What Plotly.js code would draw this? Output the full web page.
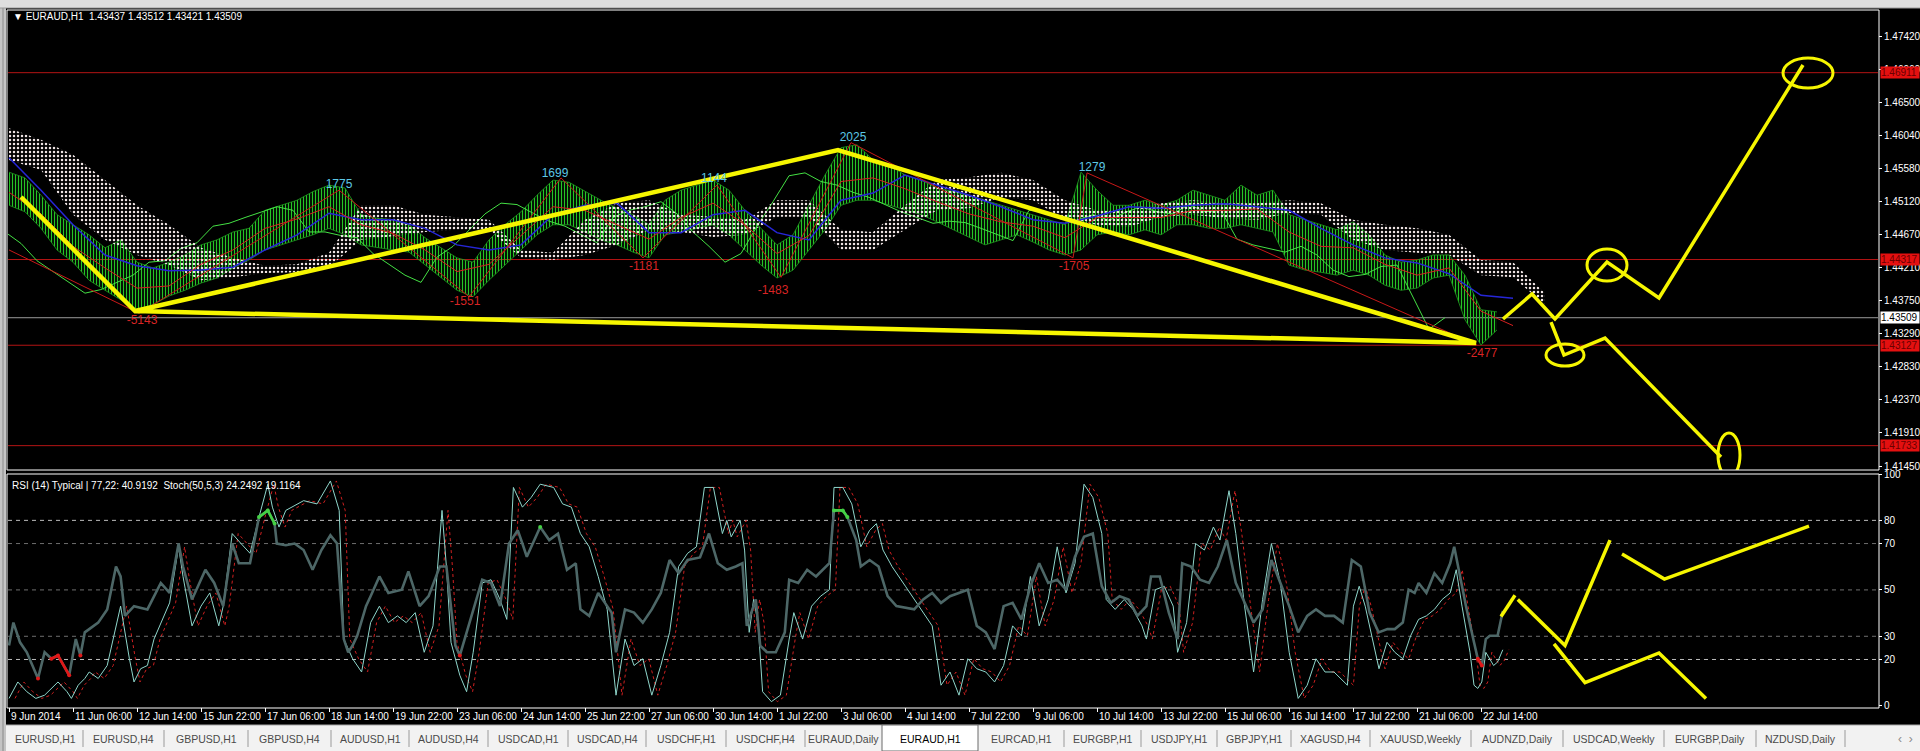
<!DOCTYPE html>
<html><head><meta charset="utf-8">
<script src="https://cdn.plot.ly/plotly-3.0.1.min.js"></script>
<style>html,body{margin:0;padding:0;background:#000;overflow:hidden}#chart{width:1920px;height:751px}</style>
</head><body><div id="chart"></div>
<script>
// ---------- DATA (x = bar index of the H1 chart, bar 0 = 9 Jun 2014) ----------
const sampleStep = 8;          // price samples every 8 bars
const indStep = 16;            // ichimoku lines sampled every 16 bars
const highs = [1.4553,1.4545,1.4521,1.4494,1.4480,1.4466,1.4448,1.4459,1.4428,1.4420,
 1.4428,1.4438,1.4452,1.4459,1.4470,1.4475,1.4500,1.4507,1.4514,1.4526,
 1.4535,1.4531,1.4494,1.4489,1.4487,1.4480,1.4462,1.4448,1.4434,1.4428,
 1.4459,1.4480,1.4498,1.4521,1.4542,1.4539,1.4526,1.4514,1.4503,1.4494,
 1.4480,1.4514,1.4528,1.4535,1.4542,1.4528,1.4500,1.4475,1.4452,1.4466,
 1.4507,1.4549,1.4587,1.4591,1.4570,1.4563,1.4549,1.4542,1.4531,1.4526,
 1.4521,1.4514,1.4507,1.4500,1.4494,1.4487,1.4480,1.4553,1.4528,1.4507,
 1.4507,1.4514,1.4507,1.4514,1.4528,1.4521,1.4514,1.4535,1.4521,1.4528,
 1.4494,1.4487,1.4480,1.4473,1.4484,1.4466,1.4438,1.4428,1.4431,1.4438,
 1.4438,1.4410,1.4362,1.4359];
const lows = [1.4507,1.4498,1.4475,1.4445,1.4428,1.4403,1.4389,1.4376,1.4362,1.4369,
 1.4381,1.4389,1.4399,1.4406,1.4420,1.4431,1.4445,1.4452,1.4459,1.4466,
 1.4475,1.4466,1.4452,1.4448,1.4445,1.4442,1.4424,1.4406,1.4389,1.4380,
 1.4403,1.4424,1.4445,1.4466,1.4480,1.4480,1.4470,1.4459,1.4452,1.4442,
 1.4434,1.4466,1.4470,1.4475,1.4480,1.4466,1.4445,1.4424,1.4406,1.4417,
 1.4445,1.4473,1.4507,1.4514,1.4514,1.4507,1.4500,1.4494,1.4484,1.4473,
 1.4462,1.4452,1.4459,1.4466,1.4456,1.4445,1.4438,1.4445,1.4466,1.4470,
 1.4466,1.4473,1.4466,1.4480,1.4480,1.4475,1.4475,1.4480,1.4475,1.4470,
 1.4424,1.4417,1.4414,1.4410,1.4417,1.4410,1.4396,1.4389,1.4392,1.4406,
 1.4410,1.4348,1.4313,1.4334];
const closes = [1.4530,1.4522,1.4498,1.4470,1.4454,1.4430,1.4415,1.4400,1.4385,1.4390,
 1.4400,1.4410,1.4428,1.4430,1.4447,1.4455,1.4478,1.4482,1.4490,1.4497,
 1.4505,1.4500,1.4470,1.4470,1.4465,1.4462,1.4440,1.4425,1.4410,1.4400,
 1.4435,1.4450,1.4472,1.4495,1.4510,1.4508,1.4496,1.4485,1.4478,1.4466,
 1.4455,1.4490,1.4500,1.4505,1.4512,1.4495,1.4470,1.4450,1.4428,1.4440,
 1.4478,1.4512,1.4548,1.4552,1.4540,1.4535,1.4525,1.4518,1.4508,1.4498,
 1.4490,1.4482,1.4485,1.4483,1.4475,1.4466,1.4458,1.4500,1.4498,1.4488,
 1.4486,1.4494,1.4486,1.4497,1.4505,1.4498,1.4495,1.4508,1.4498,1.4500,
 1.4460,1.4452,1.4447,1.4442,1.4450,1.4438,1.4417,1.4408,1.4411,1.4422,
 1.4424,1.4380,1.4335,1.4351];
const kijun = [1.4573,1.4528,1.4480,1.4438,1.4423,1.4416,1.4417,1.4421,1.4445,1.4466,
 1.4496,1.4487,1.4487,1.4475,1.4452,1.4445,1.4452,1.4494,1.4507,1.4510,
 1.4469,1.4469,1.4494,1.4500,1.4469,1.4459,1.4514,1.4524,1.4549,1.4535,
 1.4521,1.4505,1.4487,1.4482,1.4492,1.4505,1.4503,1.4507,1.4509,1.4505,
 1.4500,1.4475,1.4452,1.4434,1.4427,1.4412,1.4382,1.4378];
const tenkan = [1.4525,1.4495,1.4450,1.4420,1.4392,1.4395,1.4425,1.4445,1.4475,1.4488,
 1.4505,1.4480,1.4468,1.4445,1.4415,1.4425,1.4465,1.4505,1.4500,1.4480,
 1.4460,1.4490,1.4510,1.4480,1.4440,1.4465,1.4540,1.4545,1.4530,1.4512,
 1.4495,1.4484,1.4478,1.4462,1.4490,1.4490,1.4490,1.4500,1.4500,1.4502,
 1.4470,1.4450,1.4448,1.4425,1.4410,1.4420,1.4360,1.4340];
const senkouA = [1.4614,1.4598,1.4577,1.4542,1.4507,1.4480,1.4448,1.4434,1.4423,1.4425,
 1.4441,1.4507,1.4507,1.4494,1.4491,1.4487,1.4445,1.4441,1.4487,1.4510,
 1.4514,1.4494,1.4491,1.4487,1.4514,1.4514,1.4473,1.4470,1.4507,1.4542,
 1.4546,1.4552,1.4542,1.4514,1.4500,1.4500,1.4510,1.4514,1.4510,1.4510,
 1.4514,1.4510,1.4487,1.4480,1.4475,1.4466,1.4431,1.4428,1.4385];
const senkouB = [1.4570,1.4556,1.4494,1.4459,1.4438,1.4424,1.4403,1.4407,1.4413,1.4414,
 1.4421,1.4459,1.4464,1.4470,1.4473,1.4473,1.4434,1.4431,1.4438,1.4452,
 1.4473,1.4470,1.4463,1.4466,1.4491,1.4491,1.4445,1.4445,1.4473,1.4500,
 1.4503,1.4518,1.4514,1.4487,1.4480,1.4477,1.4491,1.4494,1.4489,1.4487,
 1.4496,1.4494,1.4459,1.4445,1.4441,1.4438,1.4410,1.4407,1.4369];
const chikouShift = 26;
const zzBars   = [0,65,165,230,276,317,354,386,421,532,539,734];
const zzPrices = [1.4445,1.4357,1.4528,1.4380,1.4545,1.4434,1.4535,1.4407,1.4594,1.4434,1.4552,1.4313];
const zzLabelBars   = [66.5,165,228,273,317.5,352.5,382,422,541.5,532.5,736.5];
const zzLabelPrices = [1.43464,1.45352,1.43727,1.45504,1.44213,1.45435,1.43880,1.46004,1.45588,1.44213,1.43005];
const zzLabelTexts  = ['-5143','1775','-1551','1699','-1181','1144','-1483','2025','1279','-1705','-2477'];
// oscillators: (bar, value) pairs
const rsiBars = [0,2.2,5.5,8.9,14.5,17.8,21.2,24.5,30.1,33.4,35.7,37.9,44.6,49.1,53.5,55.8,58,62.5,69.2,75.9,
 80.3,84.8,87,91.5,98.2,102.6,107.1,111.6,114.9,120.5,125,129.4,132.8,133.9,138.4,142.8,147.3,151.8,156.2,160.7,
 164,167.4,169.6,171.8,174.1,178.5,180.8,185.2,189.7,196.4,199.7,205.3,209.8,213.1,215.4,218.7,223.2,225.4,229.9,236.6,
 241,245.5,250,254.4,256.7,258.9,265.6,270.1,274.5,279,283.4,285.7,290.1,294.6,301.3,303.5,308,312.5,316.9,321.4,
 325.9,330.3,334.8,339.3,345.5,350,354.4,358.9,363.4,366.7,368.9,373.4,375.6,379,383.4,387.9,390.1,394.6,399.1,403.5,
 410.2,412.5,416.9,419.2,423.6,425.9,430.3,434.8,439.3,443.7,452.6,457.1,461.6,466,470.5,475,479.4,483.9,488.4,492.8,
 497.3,501.8,506.2,510.7,515.1,519.6,524.1,528.5,533,537.5,541.9,546.4,550.9,555.3,559.8,564.2,568.7,571,575.4,579.9,
 584.3,586.6,591,595.5,600,604.4,608.9,613.4,617.8,622.3,626.8,631.2,635.7,640.1,644.6,649.1,653.5,658,662.5,666.9,
 671.4,675.9,680.3,684.8,689.2,692.9,696.9,699.8,702.8,704.8,708.7,712.7,716.6,720.6,722.6,724.5,728.5,732.5,734.4,736.4,
 738.4,740.4,744.3,746.9];
const rsiVals = [26,35.9,27.4,23.1,11.8,23.1,20.3,21.7,13.2,28.8,21.7,31.7,35.9,41.6,60.1,55.8,38.8,43,41.6,53,
 48.7,70,60.1,45.9,58.7,53,43,70,61.5,61.5,81.4,84.3,78.6,70,69.3,70,67.2,58.7,67.2,73.6,
 70,28.8,23.1,26,30.2,43,47.3,55.8,48.7,50.1,58,43,47.3,54.4,60.1,60.1,26,21.7,34.5,54.4,
 53,43,70,75.7,70,64.3,77.1,71.5,74.3,58.7,61.5,41.6,38.8,48.7,40.2,23.1,41.6,40.2,35.9,41.6,
 48.7,62.9,57.2,62.9,64,74.3,61.5,58.7,60.1,61.5,34.5,45.9,26,23.1,23.1,31.7,54.4,53,58.7,55.8,
 61.5,84.3,84.3,81.4,71.5,60.1,62.9,60.1,47.3,43,41.6,45.9,48.7,44.4,47.3,48.7,50.1,34.5,31.7,24.5,
 43,44.4,37.3,51.6,61.5,53,54.4,50.1,64.3,72.9,74.3,51.6,44.4,47.3,45.9,38.8,43,55.8,55.8,40.2,
 28.8,61.5,60.1,54.4,53,60.1,71.5,53,44.4,35.9,41.6,62.9,53,43,31.7,38.8,41.6,38.8,38.8,35.9,
 62.9,60.1,40.2,31.7,33.1,33.1,35.9,50.1,48.7,53,48.7,57.2,53,61.5,68.6,60.1,43,27.4,20.3,17.4,
 28.8,30.2,30.2,40.9];
const stochBars = [0,4.4,8.9,13.4,17.8,24.5,29,31.2,34.6,37.9,40.1,44.6,49.1,53.5,55.8,60.2,62.5,65.8,69.2,72.5,
 75.9,80.3,84.8,87,91.5,96,100.4,104.9,107.1,111.6,116,120.5,125,129.4,131.7,135,138.4,147.3,154,160.7,
 165.1,167.4,171.8,176.3,180.8,185.2,189.7,194.2,198.6,203.1,207.6,212,216.5,218.7,221,225.4,228.8,232.1,236.6,241,
 245.5,248.9,252.2,256.7,261.1,265.6,272.3,276.8,281.2,285.7,290.1,294.6,299.1,303.5,308,312.5,316.9,321.4,325.9,330.3,
 334.8,339.3,343.7,347.7,352.2,354.4,356.7,358.9,361.1,365.6,367.8,370.1,372.3,374.5,376.8,381.2,385.7,390.1,392.4,396.8,
 401.3,405.8,410.2,412.5,416.9,421.4,425.9,430.3,433.7,437,441.5,448.2,454.9,461.6,466,470.5,475,479.4,483.9,488.4,
 492.8,497.3,501.8,506.2,510.7,515.1,519.6,524.1,528.5,533,537.5,541.9,546.4,548.6,553.1,557.6,562,566.5,568.7,573.2,
 577.6,582.1,584.3,588.8,593.3,597.7,602.2,605.5,610,613.4,617.8,622.3,626.8,631.2,635.7,640.1,644.6,649.1,653.5,658,
 662.5,669.2,672.2,675.1,678.1,681.1,685,689,692.9,696.9,700.8,704.8,708.7,712.7,716.6,720.6,723.6,726.5,730.5,732.5,
 734.4,736.4,738.4,742.3,744.3,746.9];
const stochVals = [3.2,10.3,6.1,3.2,4.6,10.3,6.1,3.2,8.9,11.8,14.6,11.8,17.4,34.5,43,20.3,10.3,16,17.4,28.8,
 35.9,44.4,68.6,55.8,34.5,43,48.7,34.5,43,74.3,70,65.8,81.4,95.6,85.7,77.1,84.3,88.5,87.1,97,
 84.3,28.8,20.3,14.6,35.9,43,35.9,38.8,35.9,40.2,23.1,34.5,84.3,60.1,27.4,13.2,6.1,23.1,53,54.4,
 45.9,37.3,94.2,85.7,89.9,95.6,94.2,87.1,85.7,74.3,68.6,55.8,41.6,4.6,28.8,17.4,20.3,4.6,17.4,31.7,
 60.1,65.8,68.6,94.2,94.2,84.3,74.3,80,72.9,80,67.2,31.7,45.9,35.9,6.1,1.8,4.6,28.8,40.2,28.8,
 43,47.3,50.1,94.2,94.2,87.1,68.6,75.7,78.6,67.2,60.1,51.6,43,34.5,8.9,14.6,4.6,20.3,16,14.6,
 10.3,17.4,34.5,30.2,55.8,34.5,45.9,68.6,48.7,61.5,95.6,89.9,74.3,45.9,41.6,45.9,41.6,34.5,28.8,50.1,
 51.6,43,23.1,35.9,70,67.2,77.1,71.5,92.8,74.3,43,14.6,45.9,70,53,23.1,3.2,8.9,20.3,14.6,
 14.6,8.9,43,51.6,43,31.7,16,27.4,23.1,20.3,30.2,37.3,38.8,41.6,45.9,48.7,58.7,43,23.1,8.9,
 7.5,10.3,23.1,17.4,18.9,24.2];
const signalLag = 3;
const rsiLevels = [77,22];
const dateLabels = ['9 Jun 2014','11 Jun 06:00','12 Jun 14:00','15 Jun 22:00','17 Jun 06:00','18 Jun 14:00',
 '19 Jun 22:00','23 Jun 06:00','24 Jun 14:00','25 Jun 22:00','27 Jun 06:00','30 Jun 14:00','1 Jul 22:00',
 '3 Jul 06:00','4 Jul 14:00','7 Jul 22:00','9 Jul 06:00','10 Jul 14:00','13 Jul 22:00','15 Jul 06:00',
 '16 Jul 14:00','17 Jul 22:00','21 Jul 06:00','22 Jul 14:00'];
const barsPerDateLabel = 32;
const priceTicks = [1.47420,1.46960,1.46500,1.46040,1.45580,1.45120,1.44670,1.44210,1.43750,1.43290,1.42830,1.42370,1.41910,1.41450];
const redLevels = [1.46911,1.44317,1.43127,1.41733];
const bidPrice = 1.43509;
const oscTicks = [0,20,30,50,70,80,100];
const oscDashBright = [80,20];
const oscDashDim = [70,50,30];
// hand-drawn yellow analysis (bar, price)
const triBars = [6,63,414.5,733.5,63];
const triPrices = [1.45185,1.43602,1.45837,1.43158,1.43602];
const fcUpBars = [747,761.5,773,799,825,897];
const fcUpPrices = [1.43491,1.43838,1.43491,1.44282,1.43783,1.47017];
const fcDnBars = [771,777.5,798,856];
const fcDnPrices = [1.43449,1.42991,1.43227,1.41575];
const ellCx = [799,899.5,778,860];
const ellCy = [1.44240,1.46906,1.42991,1.41603];
const ellRx = [10,12.5,9.5,5.5];
const ellRy = [0.00222,0.00208,0.00153,0.00305];
const oscPaths = [
  {b:[746,753], v:[38.5,47.7]},
  {b:[754.4,778,800.5], v:[45.9,26,71.5]},
  {b:[806.5,827.7,900], v:[65.5,54.7,77.5]},
  {b:[772.5,788,825,848.5], v:[26.7,10,22.8,3.2]}
];
const headerText = '▼ EURAUD,H1\u00a0 1.43437 1.43512 1.43421 1.43509';
const oscText = 'RSI (14) Typical | 77,22: 40.9192\u00a0 Stoch(50,5,3) 24.2492 19.1164';
const tabNames = ['EURUSD,H1','EURUSD,H4','GBPUSD,H1','GBPUSD,H4','AUDUSD,H1','AUDUSD,H4','USDCAD,H1','USDCAD,H4',
 'USDCHF,H1','USDCHF,H4','EURAUD,Daily','EURAUD,H1','EURCAD,H1','EURGBP,H1','USDJPY,H1','GBPJPY,H1','XAGUSD,H4',
 'XAUUSD,Weekly','AUDNZD,Daily','USDCAD,Weekly','EURGBP,Daily','NZDUSD,Daily'];
const activeTab = 11;

// ---------- LAYOUT GEOMETRY ----------
const W=1920,H=751,ML=8,MR=42,MT=10,MB=44;
const PW=W-ML-MR, PH=H-MT-MB;
const px = x => (x-ML)/PW;
const py = y => (H-MB-y)/PH;
const tabEdges = [8,83,164,248,331,409,488,568,646,726,805,882,978,1064,1141,1217,1291,1370,1471,1563,1664,1756,1845];
const FONT = "'Liberation Sans Narrow','Liberation Sans',Arial,sans-serif";

const b8 = highs.map((_,i)=>i*sampleStep);
const b16 = kijun.map((_,i)=>i*indStep);
const bCloud = senkouA.map((_,i)=>i*indStep);

const traces = [];
// price bars (hatched band high/low)
traces.push({x:b8,y:lows,type:'scatter',mode:'lines',line:{color:'#1f9a1f',width:0.8},hoverinfo:'skip'});
traces.push({x:b8,y:highs,type:'scatter',mode:'lines',line:{color:'#1f9a1f',width:0.8},fill:'tonexty',
  fillcolor:'rgba(0,0,0,0)',fillpattern:{shape:'|',fgcolor:'#26c426',bgcolor:'rgba(0,0,0,0)',size:3,solidity:0.4},hoverinfo:'skip'});
// chikou span
traces.push({x:b8.map(b=>b-chikouShift),y:closes,type:'scatter',mode:'lines',line:{color:'#44e044',width:1},hoverinfo:'skip'});
// cloud (dotted kumo)
traces.push({x:bCloud,y:senkouB,type:'scatter',mode:'lines',line:{color:'rgba(0,0,0,0)',width:0},hoverinfo:'skip'});
traces.push({x:bCloud,y:senkouA,type:'scatter',mode:'lines',line:{color:'rgba(0,0,0,0)',width:0},fill:'tonexty',
  fillcolor:'rgba(0,0,0,0)',fillpattern:{shape:'.',fgcolor:'#efe4e4',bgcolor:'rgba(0,0,0,0)',size:4,solidity:0.3},hoverinfo:'skip'});
// kijun / tenkan
traces.push({x:b16,y:kijun,type:'scatter',mode:'lines',line:{color:'#2626d8',width:1.5},hoverinfo:'skip'});
traces.push({x:b16,y:tenkan,type:'scatter',mode:'lines',line:{color:'#d42020',width:1},hoverinfo:'skip'});
// zigzag
traces.push({x:zzBars,y:zzPrices,type:'scatter',mode:'lines',line:{color:'#c81818',width:1},hoverinfo:'skip'});
// yellow drawings
traces.push({x:triBars,y:triPrices,type:'scatter',mode:'lines',line:{color:'#f6f600',width:4.5},hoverinfo:'skip'});
traces.push({x:fcUpBars,y:fcUpPrices,type:'scatter',mode:'lines',line:{color:'#f6f600',width:3.5},hoverinfo:'skip'});
traces.push({x:fcDnBars,y:fcDnPrices,type:'scatter',mode:'lines',line:{color:'#f6f600',width:3.5},hoverinfo:'skip'});
// zigzag labels
traces.push({x:zzLabelBars,y:zzLabelPrices,type:'scatter',mode:'text',text:zzLabelTexts,
  textfont:{family:FONT,size:12,color:zzLabelTexts.map(t=>t[0]==='-'?'#d82424':'#5cc8e6')},hoverinfo:'skip'});
// oscillator panel
traces.push({x:stochBars.map(b=>b+signalLag),y:stochVals,xaxis:'x',yaxis:'y2',type:'scatter',mode:'lines',line:{color:'#d02020',width:1,dash:'dot'},hoverinfo:'skip'});
traces.push({x:stochBars,y:stochVals,xaxis:'x',yaxis:'y2',type:'scatter',mode:'lines',line:{color:'#8fd6cb',width:1},hoverinfo:'skip'});
traces.push({x:rsiBars,y:rsiVals,xaxis:'x',yaxis:'y2',type:'scatter',mode:'lines',line:{color:'#4d6767',width:2.6},hoverinfo:'skip'});
traces.push({x:rsiBars,y:rsiVals.map(v=>v>rsiLevels[0]?v:null),xaxis:'x',yaxis:'y2',type:'scatter',mode:'lines+markers',
  line:{color:'#44d044',width:2.6},marker:{color:'#44d044',size:4},hoverinfo:'skip'});
traces.push({x:rsiBars,y:rsiVals.map(v=>v<rsiLevels[1]?v:null),xaxis:'x',yaxis:'y2',type:'scatter',mode:'lines+markers',
  line:{color:'#e01818',width:2.6},marker:{color:'#e01818',size:4},hoverinfo:'skip'});
oscPaths.forEach(p=>traces.push({x:p.b,y:p.v,xaxis:'x',yaxis:'y2',type:'scatter',mode:'lines',line:{color:'#f6f600',width:3.5},hoverinfo:'skip'}));

// ---------- SHAPES ----------
const shapes = [];
shapes.push({type:'rect',xref:'paper',yref:'paper',x0:px(0),x1:px(6),y0:py(751),y1:py(0),fillcolor:'#c4c4c4',line:{width:0},layer:'above'});
shapes.push({type:'line',xref:'paper',yref:'paper',x0:px(3),x1:px(3),y0:py(751),y1:py(0),line:{color:'#8a8a8a',width:1},layer:'above'});
shapes.push({type:'rect',xref:'paper',yref:'paper',x0:px(0),x1:px(1920),y0:py(8),y1:py(0),fillcolor:'#dedede',line:{width:0},layer:'above'});
shapes.push({type:'line',xref:'paper',yref:'paper',x0:px(0),x1:px(1920),y0:py(8),y1:py(8),line:{color:'#9a9a9a',width:1},layer:'above'});
redLevels.forEach(l=>shapes.push({type:'line',xref:'paper',yref:'y',x0:0,x1:1,y0:l,y1:l,line:{color:'#b41414',width:1},layer:'below'}));
shapes.push({type:'line',xref:'paper',yref:'y',x0:0,x1:1,y0:bidPrice,y1:bidPrice,line:{color:'#9a9a9a',width:1},layer:'below'});
oscDashBright.forEach(l=>shapes.push({type:'line',xref:'paper',yref:'y2',x0:0,x1:1,y0:l,y1:l,line:{color:'#bdbdbd',width:1,dash:'4px,4px'},layer:'below'}));
oscDashDim.forEach(l=>shapes.push({type:'line',xref:'paper',yref:'y2',x0:0,x1:1,y0:l,y1:l,line:{color:'#6e6e6e',width:1,dash:'4px,4px'},layer:'below'}));
ellCx.forEach((c,i)=>shapes.push({type:'circle',xref:'x',yref:'y',x0:c-ellRx[i],x1:c+ellRx[i],y0:ellCy[i]-ellRy[i],y1:ellCy[i]+ellRy[i],
  line:{color:'#f6f600',width:3}}));
shapes.push({type:'rect',xref:'paper',yref:'paper',x0:px(7),x1:px(1879),y0:py(470),y1:py(10),line:{color:'#ffffff',width:1},layer:'above'});
shapes.push({type:'rect',xref:'paper',yref:'paper',x0:px(7),x1:px(1879),y0:py(708),y1:py(474),line:{color:'#ffffff',width:1},layer:'above'});
shapes.push({type:'rect',xref:'paper',yref:'paper',x0:px(6),x1:px(1920),y0:py(751),y1:py(725),fillcolor:'#f2f2f2',line:{width:0},layer:'above'});
shapes.push({type:'line',xref:'paper',yref:'paper',x0:px(6),x1:px(1920),y0:py(725),y1:py(725),line:{color:'#a8a8a8',width:1},layer:'above'});
shapes.push({type:'rect',xref:'paper',yref:'paper',x0:px(tabEdges[activeTab]),x1:px(tabEdges[activeTab+1]),y0:py(751),y1:py(725),
  fillcolor:'#ffffff',line:{color:'#6a6a6a',width:1},layer:'above'});
tabEdges.forEach((e,i)=>{ if(i>0 && i!==activeTab && i!==activeTab+1)
  shapes.push({type:'line',xref:'paper',yref:'paper',x0:px(e),x1:px(e),y0:py(747),y1:py(730),line:{color:'#9a9a9a',width:1},layer:'above'}); });

// ---------- ANNOTATIONS ----------
const ann = [];
ann.push({xref:'paper',yref:'paper',x:px(11),y:py(17),xanchor:'left',yanchor:'middle',showarrow:false,text:headerText,font:{family:FONT,size:10,color:'#ffffff'}});
ann.push({xref:'paper',yref:'paper',x:px(10),y:py(485),xanchor:'left',yanchor:'middle',showarrow:false,text:oscText,font:{family:FONT,size:10,color:'#ffffff'}});
dateLabels.forEach((t,i)=>ann.push({xref:'x',yref:'paper',x:i*barsPerDateLabel,y:py(716),xanchor:'left',yanchor:'middle',xshift:0,
  showarrow:false,text:t,font:{family:FONT,size:10,color:'#ffffff'}}));
redLevels.forEach(l=>ann.push({xref:'paper',yref:'y',x:px(1880),y:l,xanchor:'left',yanchor:'middle',showarrow:false,
  text:l.toFixed(5),width:38,height:11,align:'left',bgcolor:'#e41010',borderpad:0,font:{family:FONT,size:10,color:'#6a0000'}}));
ann.push({xref:'paper',yref:'y',x:px(1880),y:bidPrice,xanchor:'left',yanchor:'middle',showarrow:false,
  text:bidPrice.toFixed(5),width:38,height:11,align:'left',bgcolor:'#ffffff',borderpad:0,font:{family:FONT,size:10,color:'#000000'}});
tabNames.forEach((t,i)=>ann.push({xref:'paper',yref:'paper',x:px((tabEdges[i]+tabEdges[i+1])/2),y:py(739),xanchor:'center',yanchor:'middle',
  showarrow:false,text:t,font:{family:FONT,size:10.5,color:i===activeTab?'#000000':'#4a4a4a'}}));
ann.push({xref:'paper',yref:'paper',x:px(1905),y:py(739),xanchor:'center',yanchor:'middle',showarrow:false,text:'‹\u00a0 ›',font:{family:FONT,size:12,color:'#8a8a8a'}});

const axisFont = {family:FONT,size:10,color:'#ffffff'};
const layout = {
  width:W,height:H,margin:{l:ML,r:MR,t:MT,b:MB,pad:0},
  paper_bgcolor:'#000000',plot_bgcolor:'#000000',showlegend:false,hovermode:false,dragmode:false,
  xaxis:{domain:[0,1],anchor:'y2',range:[-0.5,934.5],tickmode:'array',
    tickvals:dateLabels.map((_,i)=>i*barsPerDateLabel),ticktext:dateLabels,showticklabels:false,ticks:'outside',ticklen:4,tickcolor:'#ffffff',
    showgrid:false,zeroline:false,showline:false},
  yaxis:{domain:[py(470),py(10)],anchor:'x',side:'right',range:[1.4792-0.00013883*470,1.4792-0.00013883*10],
    tickmode:'array',tickvals:priceTicks,ticktext:priceTicks.map(v=>v.toFixed(5)),ticks:'outside',ticklen:3,tickcolor:'#ffffff',
    tickfont:axisFont,showgrid:false,zeroline:false,showline:false},
  yaxis2:{domain:[py(708),py(474)],anchor:'x',side:'right',range:[-0.5,100],tickmode:'array',tickvals:oscTicks,
    ticks:'outside',ticklen:3,tickcolor:'#ffffff',tickfont:axisFont,showgrid:false,zeroline:false,showline:false},
  shapes:shapes,annotations:ann
};
Plotly.newPlot('chart',traces,layout,{staticPlot:true,displayModeBar:false});
</script></body></html>
